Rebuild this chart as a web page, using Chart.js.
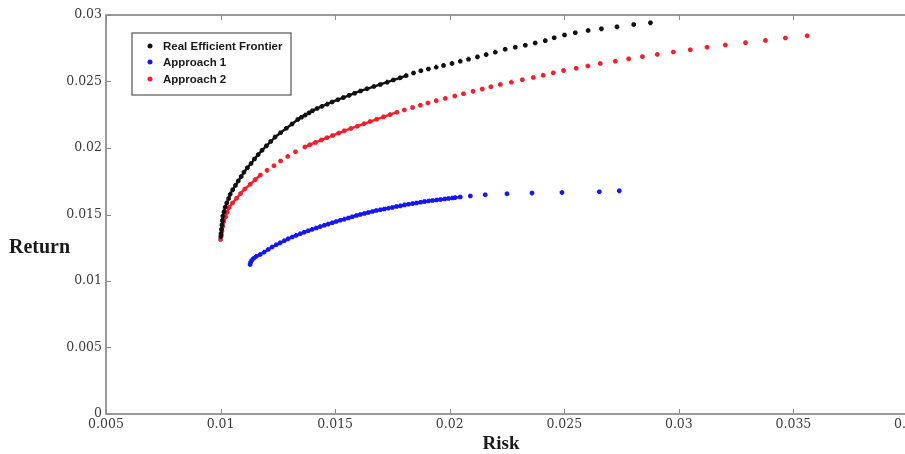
<!DOCTYPE html>
<html>
<head>
<meta charset="utf-8">
<script src="https://cdn.jsdelivr.net/npm/chart.js@4.4.1/dist/chart.umd.min.js"></script>
<style>
  html, body { margin: 0; padding: 0; background: #ffffff; overflow: hidden; width: 905px; height: 454px; }
  #wrap { position: relative; width: 930px; height: 454px; }
</style>
</head>
<body>
<div id="wrap"><canvas id="c"></canvas></div>
<script>
// ---- data ----
const riskTickLabels = ['0.005','0.01','0.015','0.02','0.025','0.03','0.035','0.04'];
const returnTickLabels = ['0','0.005','0.01','0.015','0.02','0.025','0.03'];
const seriesNames = ['Real Efficient Frontier', 'Approach 1', 'Approach 2'];

// Real Efficient Frontier
const realRisk = [0.01001,0.01002,0.01004,0.01006,0.01008,0.01010,0.01015,0.01020,0.01027,0.01035,
  0.01042,0.01053,0.01065,0.01077,0.01090,0.01102,0.01117,0.01133,0.01148,0.01164,
  0.01181,0.01200,0.01219,0.01238,0.01262,0.01287,0.01312,0.01337,0.01353,0.01369,
  0.01386,0.01401,0.01421,0.01442,0.01465,0.01487,0.01512,0.01536,0.01561,0.01585,
  0.01611,0.01639,0.01669,0.01697,0.01727,0.01754,0.01784,0.01810,0.01842,0.01874,
  0.01907,0.01941,0.01973,0.02010,0.02046,0.02082,0.02121,0.02159,0.02199,0.02242,
  0.02286,0.02330,0.02373,0.02417,0.02456,0.02501,0.02548,0.02604,0.02662,0.02730,
  0.02803,0.02876];
const realReturn = [0.01335,0.01356,0.01389,0.01422,0.01455,0.01488,0.01521,0.01554,0.01587,0.01620,
  0.01653,0.01686,0.01719,0.01752,0.01785,0.01818,0.01851,0.01884,0.01917,0.01950,
  0.01983,0.02016,0.02049,0.02082,0.02115,0.02148,0.02181,0.02214,0.02231,0.02247,
  0.02264,0.02280,0.02297,0.02313,0.02330,0.02346,0.02363,0.02379,0.02396,0.02412,
  0.02429,0.02445,0.02462,0.02478,0.02495,0.02511,0.02528,0.02544,0.02564,0.02581,
  0.02594,0.02608,0.02621,0.02636,0.02653,0.02668,0.02685,0.02702,0.02721,0.02743,
  0.02758,0.02773,0.02790,0.02807,0.02829,0.02850,0.02866,0.02883,0.02896,0.02911,
  0.02929,0.02941];

// Approach 1
const approach1Risk = [0.01129,0.01131,0.01136,0.01144,0.01156,0.01173,0.01190,0.01208,0.01225,0.01243,
  0.01260,0.01278,0.01295,0.01313,0.01330,0.01348,0.01365,0.01383,0.01400,0.01418,
  0.01435,0.01453,0.01470,0.01488,0.01505,0.01523,0.01540,0.01558,0.01575,0.01593,
  0.01610,0.01628,0.01645,0.01663,0.01680,0.01698,0.01715,0.01733,0.01750,0.01768,
  0.01785,0.01803,0.01820,0.01838,0.01855,0.01873,0.01890,0.01908,0.01925,0.01943,
  0.01960,0.01978,0.01995,0.02012,0.02024,0.02046,0.02090,0.02155,0.02250,0.02359,
  0.02490,0.02653,0.02740];
const approach1Return = [0.01124,0.01140,0.01155,0.01170,0.01185,0.01199,0.01217,0.01237,0.01256,0.01272,
  0.01287,0.01303,0.01317,0.01331,0.01343,0.01355,0.01367,0.01378,0.01388,0.01399,
  0.01409,0.01419,0.01428,0.01438,0.01447,0.01457,0.01465,0.01474,0.01483,0.01492,
  0.01500,0.01508,0.01515,0.01523,0.01530,0.01536,0.01541,0.01548,0.01553,0.01560,
  0.01565,0.01572,0.01577,0.01582,0.01587,0.01592,0.01597,0.01601,0.01605,0.01609,
  0.01613,0.01617,0.01620,0.01624,0.01627,0.01632,0.01639,0.01648,0.01656,0.01661,
  0.01665,0.01671,0.01678];

// Approach 2
const approach2Risk = [0.01000,0.01003,0.01006,0.01010,0.01014,0.01022,0.01029,0.01037,0.01052,0.01070,
  0.01087,0.01106,0.01129,0.01151,0.01174,0.01203,0.01233,0.01262,0.01293,0.01327,
  0.01368,0.01390,0.01414,0.01440,0.01464,0.01489,0.01515,0.01540,0.01569,0.01597,
  0.01626,0.01653,0.01681,0.01711,0.01740,0.01770,0.01802,0.01838,0.01872,0.01905,
  0.01941,0.01981,0.02022,0.02060,0.02102,0.02142,0.02180,0.02221,0.02269,0.02317,
  0.02365,0.02408,0.02452,0.02497,0.02552,0.02603,0.02657,0.02723,0.02781,0.02841,
  0.02906,0.02976,0.03050,0.03123,0.03203,0.03291,0.03378,0.03465,0.03560];
const approach2Return = [0.01312,0.01342,0.01377,0.01412,0.01447,0.01482,0.01517,0.01552,0.01587,0.01622,
  0.01657,0.01692,0.01727,0.01762,0.01797,0.01832,0.01867,0.01902,0.01937,0.01972,
  0.02007,0.02025,0.02042,0.02060,0.02077,0.02094,0.02112,0.02129,0.02147,0.02164,
  0.02182,0.02199,0.02216,0.02234,0.02251,0.02269,0.02286,0.02304,0.02321,0.02338,
  0.02356,0.02373,0.02391,0.02408,0.02426,0.02443,0.02460,0.02478,0.02495,0.02513,
  0.02530,0.02547,0.02565,0.02582,0.02600,0.02617,0.02635,0.02652,0.02670,0.02687,
  0.02704,0.02722,0.02739,0.02757,0.02774,0.02792,0.02809,0.02827,0.02844];

// ---- chart ----
const colors = ['#111111', '#1414ff', '#ff1a2a'];
function pts(xs, ys) { return xs.map((x, i) => ({ x: x, y: ys[i] })); }

// join only closely packed markers so the dense part reads as a solid curve
function denseSegment(color) {
  return {
    borderColor: (c) => {
      const dx = c.p1.x - c.p0.x, dy = c.p1.y - c.p0.y;
      return Math.sqrt(dx * dx + dy * dy) < 7.5 ? color : 'rgba(0,0,0,0)';
    }
  };
}

function drawStar(ctx, x, y, r, color, lw) {
  ctx.save();
  ctx.strokeStyle = color;
  ctx.lineWidth = lw;
  ctx.beginPath();
  ctx.moveTo(x - r, y); ctx.lineTo(x + r, y);
  ctx.moveTo(x, y - r); ctx.lineTo(x, y + r);
  const d = r * 0.7071;
  ctx.moveTo(x - d, y - d); ctx.lineTo(x + d, y + d);
  ctx.moveTo(x - d, y + d); ctx.lineTo(x + d, y - d);
  ctx.stroke();
  ctx.restore();
}

const decor = {
  id: 'decor',
  afterDatasetsDraw(chart) {
    const ctx = chart.ctx;
    const a = chart.chartArea;
    const xs = chart.scales.x, ys = chart.scales.y;
    ctx.save();
    // frame
    ctx.strokeStyle = '#7a7a7a';
    ctx.lineWidth = 1.5;
    ctx.strokeRect(a.left, a.top, a.right - a.left, a.bottom - a.top);
    // inward ticks
    ctx.strokeStyle = '#8a8a8a';
    ctx.lineWidth = 1;
    ctx.beginPath();
    xs.ticks.forEach((t, i) => {
      const px = Math.round(xs.getPixelForTick(i)) + 0.5;
      ctx.moveTo(px, a.bottom); ctx.lineTo(px, a.bottom - 5);
      ctx.moveTo(px, a.top); ctx.lineTo(px, a.top + 5);
    });
    ys.ticks.forEach((t, i) => {
      const py = Math.round(ys.getPixelForTick(i)) + 0.5;
      ctx.moveTo(a.left, py); ctx.lineTo(a.left + 5, py);
    });
    ctx.stroke();

    // legend box
    const lx = 132, ly = 33, lw = 159, lh = 62;
    ctx.fillStyle = '#ffffff';
    ctx.fillRect(lx, ly, lw, lh);
    ctx.strokeStyle = '#555555';
    ctx.lineWidth = 1.2;
    ctx.strokeRect(lx, ly, lw, lh);
    const rowsY = [46, 62, 79];
    ctx.font = 'bold 11.5px "Liberation Sans", Arial, sans-serif';
    ctx.textBaseline = 'middle';
    ctx.textAlign = 'left';
    seriesNames.forEach((name, i) => {
      drawStar(ctx, 150, rowsY[i], 2.6, colors[i], 1.4);
      ctx.fillStyle = '#1a1a1a';
      ctx.fillText(name, 163, rowsY[i] + 0.5);
    });

    // axis titles
    ctx.fillStyle = '#1a1a1a';
    ctx.font = 'bold 20px "Liberation Serif", "Times New Roman", serif';
    ctx.textAlign = 'left';
    ctx.textBaseline = 'middle';
    ctx.fillText('Return', 9, 248);
    ctx.font = 'bold 19px "Liberation Serif", "Times New Roman", serif';
    ctx.textAlign = 'center';
    ctx.fillText('Risk', 501, 444);
    ctx.restore();
  }
};

const tickFont = { family: '"DejaVu Serif", "Liberation Serif", serif', size: 12.5 };

function ds(i, xs, ys) {
  return {
    label: seriesNames[i], data: pts(xs, ys),
    borderColor: colors[i], backgroundColor: colors[i],
    showLine: true, borderWidth: 2.4, segment: denseSegment(colors[i])
  };
}

new Chart(document.getElementById('c'), {
  type: 'scatter',
  data: {
    datasets: [
      ds(0, realRisk, realReturn),
      ds(1, approach1Risk, approach1Return),
      ds(2, approach2Risk, approach2Return)
    ]
  },
  options: {
    responsive: true,
    maintainAspectRatio: false,
    animation: false,
    devicePixelRatio: 1,
    layout: { padding: { left: 0, right: 22, top: 15, bottom: 0 } },
    elements: { point: { pointStyle: 'star', radius: 2.3, borderWidth: 1.3, hoverRadius: 2.3 } },
    plugins: { legend: { display: false }, tooltip: { enabled: false }, title: { display: false } },
    scales: {
      x: {
        type: 'linear', min: 0.005, max: 0.04,
        grid: { display: false, drawTicks: false },
        border: { display: false },
        ticks: {
          stepSize: 0.005, padding: 3, color: '#3a3a3a', font: tickFont, maxRotation: 0, autoSkip: false,
          callback: (v, i) => riskTickLabels[i]
        },
        afterFit: (s) => { s.height = 40; }
      },
      y: {
        type: 'linear', min: 0, max: 0.03,
        grid: { display: false, drawTicks: false },
        border: { display: false },
        ticks: {
          stepSize: 0.005, padding: 4, color: '#3a3a3a', font: tickFont, autoSkip: false,
          callback: (v, i) => returnTickLabels[i]
        },
        afterFit: (s) => { s.width = 106; }
      }
    }
  },
  plugins: [decor]
});
</script>
</body>
</html>
